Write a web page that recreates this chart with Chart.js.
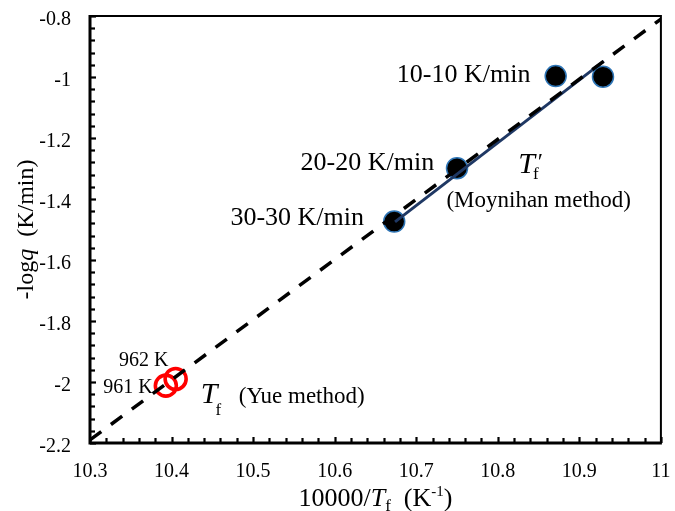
<!DOCTYPE html>
<html><head><meta charset="utf-8">
<script src="https://cdn.jsdelivr.net/npm/chart.js@4.4.0/dist/chart.umd.min.js"></script>
<style>html,body{margin:0;padding:0;background:#fff;}canvas{display:block;}</style>
</head><body>
<canvas id="c" width="675" height="511"></canvas>
<script>
// ---- data ----
const xTickValues = [10.3, 10.4, 10.5, 10.6, 10.7, 10.8, 10.9, 11];
const xTickLabels = ['10.3', '10.4', '10.5', '10.6', '10.7', '10.8', '10.9', '11'];
const yTickValues = [-2.2, -2, -1.8, -1.6, -1.4, -1.2, -1, -0.8];
const yTickLabels = ['-2.2', '-2', '-1.8', '-1.6', '-1.4', '-1.2', '-1', '-0.8'];

// Moynihan-method points (10000/Tf', -log q)
const moyX = [10.673, 10.750, 10.871, 10.929];
const moyY = [-1.474, -1.299, -0.997, -0.999];
// Yue-method points
const yueX = [10.393, 10.405];
const yueY = [-2.012, -1.990];
// solid fit line through Moynihan points (end points)
const fitX = [10.674, 10.930];
const fitY = [-1.475, -0.948];
// dashed guide line (end points)
const guideX = [10.3, 11.0];
const guideY = [-2.19, -0.81];

const rateLabels = ['30-30 K/min', '20-20 K/min', '10-10 K/min'];
const tempLabels = ['962 K', '961 K'];

const SERIF = "'Liberation Serif', 'Times New Roman', serif";
Chart.defaults.font.family = SERIF;
Chart.defaults.color = '#000';

function pts(xs, ys) { return xs.map((x, i) => ({ x: x, y: ys[i] })); }

// frame + inward ticks + tick labels (positions from the chart scales)
const framePlugin = {
  id: 'frame',
  beforeDatasetsDraw(chart) {
    const ctx = chart.ctx, a = chart.chartArea, xs = chart.scales.x, ys = chart.scales.y;
    ctx.save();
    ctx.strokeStyle = '#000';
    ctx.lineCap = 'butt';
    ctx.lineWidth = 2.2;
    for (let k = 0; k <= 35; k++) {
      const v = 10.3 + k * 0.02;
      const px = Math.round(xs.getPixelForValue(v)) + 0.5;
      const len = (k % 5 === 0) ? 6 : 5;
      ctx.beginPath(); ctx.moveTo(px, a.bottom); ctx.lineTo(px, a.bottom - len); ctx.stroke();
    }
    for (let k = 0; k <= 35; k++) {
      const v = -2.2 + k * 0.04;
      const py = Math.round(ys.getPixelForValue(v)) + 0.5;
      const len = (k % 5 === 0) ? 6 : 5;
      ctx.beginPath(); ctx.moveTo(a.left, py); ctx.lineTo(a.left + len, py); ctx.stroke();
    }
    ctx.lineWidth = 2;
    ctx.beginPath(); ctx.moveTo(a.left, a.top); ctx.lineTo(a.right, a.top); ctx.lineTo(a.right, a.bottom); ctx.stroke();
    ctx.lineWidth = 3;
    ctx.beginPath(); ctx.moveTo(a.left, a.top - 1); ctx.lineTo(a.left, a.bottom); ctx.lineTo(a.right + 1, a.bottom); ctx.stroke();

    // tick labels
    ctx.fillStyle = '#000';
    ctx.font = '20px ' + SERIF;
    ctx.textBaseline = 'alphabetic';
    ctx.textAlign = 'center';
    xs.ticks.forEach(t => {
      const i = xTickValues.findIndex(v => Math.abs(v - t.value) < 1e-6);
      if (i >= 0) ctx.fillText(xTickLabels[i], xs.getPixelForValue(t.value), a.bottom + 34);
    });
    ctx.textAlign = 'right';
    ys.ticks.forEach(t => {
      const i = yTickValues.findIndex(v => Math.abs(v - t.value) < 1e-6);
      if (i >= 0) ctx.fillText(yTickLabels[i], a.left - 19, ys.getPixelForValue(t.value) + 9);
    });
    ctx.restore();
  }
};

// annotation positions in data units
const annotations = [
  { text: rateLabels[2], x: 10.840, y: -1.016, align: 'right', size: 26 },
  { text: rateLabels[1], x: 10.722, y: -1.305, align: 'right', size: 26 },
  { text: rateLabels[0], x: 10.636, y: -1.485, align: 'right', size: 26 },
  { text: '(Moynihan method)', x: 10.737, y: -1.426, align: 'left', size: 23 },
  { text: '(Yue method)', x: 10.4825, y: -2.070, align: 'left', size: 23 },
  { text: tempLabels[0], x: 10.3357, y: -1.9475, align: 'left', size: 20 },
  { text: tempLabels[1], x: 10.3162, y: -2.035, align: 'left', size: 20 }
];

const textPlugin = {
  id: 'texts',
  afterDatasetsDraw(chart) {
    const ctx = chart.ctx, xs = chart.scales.x, ys = chart.scales.y, a = chart.chartArea;
    ctx.save();
    ctx.fillStyle = '#000';
    ctx.textBaseline = 'alphabetic';
    annotations.forEach(an => {
      ctx.font = an.size + 'px ' + SERIF;
      ctx.textAlign = an.align;
      ctx.fillText(an.text, xs.getPixelForValue(an.x), ys.getPixelForValue(an.y));
    });
    ctx.textAlign = 'left';
    // T_f' (Moynihan)
    let tx = xs.getPixelForValue(10.8252), ty = ys.getPixelForValue(-1.3157);
    ctx.font = 'italic 30px ' + SERIF;
    ctx.fillText('T', tx, ty);
    let tw = ctx.measureText('T').width;
    ctx.font = '17px ' + SERIF;
    ctx.fillText('f', tx + tw - 2, ty + 6);
    let fw = ctx.measureText('f').width;
    ctx.font = '24px ' + SERIF;
    ctx.fillText('\u2032', tx + tw + fw - 3, ty - 4);
    // T_f (Yue)
    tx = xs.getPixelForValue(10.4359); ty = ys.getPixelForValue(-2.0698);
    ctx.font = 'italic 30px ' + SERIF;
    ctx.fillText('T', tx, ty);
    tw = ctx.measureText('T').width;
    ctx.font = '17px ' + SERIF;
    ctx.fillText('f', tx + tw - 2, ty + 12);

    // x axis title: 10000/Tf (K-1)
    const segs = [
      { t: '10000/', f: '26px ', dy: 0 },
      { t: 'T', f: 'italic 26px ', dy: 0 },
      { t: 'f', f: '17px ', dy: 5 },
      { t: '  (K', f: '26px ', dy: 0 },
      { t: '-1', f: '15px ', dy: -10 },
      { t: ')', f: '26px ', dy: 0 }
    ];
    let total = 0;
    segs.forEach(s => { ctx.font = s.f + SERIF; s.w = ctx.measureText(s.t).width; total += s.w; });
    let cx = (a.left + a.right) / 2 - total / 2;
    const by = 506;
    segs.forEach(s => { ctx.font = s.f + SERIF; ctx.fillText(s.t, cx, by + s.dy); cx += s.w; });

    // y axis title: -logq (K/min)
    const ysegs = [
      { t: '-log', f: '24px ' },
      { t: 'q', f: 'italic 24px ' },
      { t: '  (K/min)', f: '24px ' }
    ];
    let ytot = 0;
    ysegs.forEach(s => { ctx.font = s.f + SERIF; s.w = ctx.measureText(s.t).width; ytot += s.w; });
    ctx.translate(33, (a.top + a.bottom) / 2);
    ctx.rotate(-Math.PI / 2);
    let yx = -ytot / 2;
    ysegs.forEach(s => { ctx.font = s.f + SERIF; ctx.fillText(s.t, yx, 0); yx += s.w; });
    ctx.restore();
  }
};

new Chart(document.getElementById('c'), {
  type: 'scatter',
  data: {
    datasets: [
      { label: 'guide', data: pts(guideX, guideY), showLine: true, borderColor: '#000', borderWidth: 3.5,
        borderDash: [14, 12], pointRadius: 0, fill: false },
      { label: 'fit', data: pts(fitX, fitY), showLine: true, borderColor: '#1f3864', borderWidth: 3,
        pointRadius: 0, fill: false },
      { label: 'Moynihan', data: pts(moyX, moyY), showLine: false, pointRadius: 10.5,
        pointBackgroundColor: '#000', pointBorderColor: '#2e75b6', pointBorderWidth: 1.5 },
      { label: 'Yue', data: pts(yueX, yueY), showLine: false, pointRadius: 10.5,
        pointBackgroundColor: 'rgba(0,0,0,0)', pointBorderColor: '#ff0000', pointBorderWidth: 3.6 }
    ]
  },
  options: {
    responsive: false, animation: false, events: [],
    layout: { padding: { top: 16, right: 9.5, left: 0, bottom: 0 } },
    plugins: { legend: { display: false }, tooltip: { enabled: false } },
    scales: {
      x: {
        type: 'linear', min: 10.3, max: 11,
        afterBuildTicks: s => { s.ticks = xTickValues.map(v => ({ value: v })); },
        afterFit: s => { s.height = 68; s.paddingLeft = 0; s.paddingRight = 0; },
        grid: { display: false, drawTicks: false }, border: { display: false },
        ticks: { display: false }
      },
      y: {
        type: 'linear', min: -2.2, max: -0.8,
        afterBuildTicks: s => { s.ticks = yTickValues.map(v => ({ value: v })); },
        afterFit: s => { s.width = 90; s.paddingTop = 0; s.paddingBottom = 0; },
        grid: { display: false, drawTicks: false }, border: { display: false },
        ticks: { display: false }
      }
    }
  },
  plugins: [framePlugin, textPlugin]
});
</script>
</body></html>
